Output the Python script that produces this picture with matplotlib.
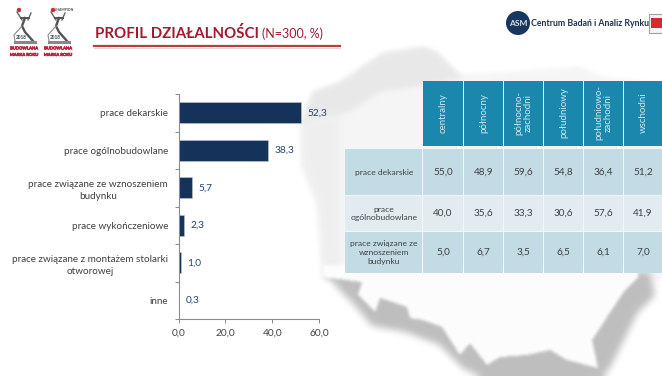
import matplotlib
matplotlib.use("Agg")
import matplotlib.pyplot as plt
import matplotlib.patheffects as pe
from matplotlib.patches import Rectangle, Circle
from matplotlib.path import Path
import numpy as np

plt.rcParams['font.family'] = ['Lato', 'DejaVu Sans']

categories = ["prace dekarskie", "prace ogólnobudowlane", "prace związane ze wznoszeniem\nbudynku",
              "prace wykończeniowe", "prace związane z montażem stolarki\notworowej", "inne"]
values = [52.3, 38.3, 5.7, 2.3, 1.0, 0.3]
x_ticks = [0, 20, 40, 60]

regions = ["centralny", "północny", "północno-\nzachodni", "południowy", "południowo-\nzachodni", "wschodni"]
row_labels = ["prace dekarskie", "prace\nogólnobudowlane", "prace związane ze\nwznoszeniem\nbudynku"]
row_dekarskie = [55.0, 48.9, 59.6, 54.8, 36.4, 51.2]
row_ogolno = [40.0, 35.6, 33.3, 30.6, 57.6, 41.9]
row_wznoszenie = [5.0, 6.7, 3.5, 6.5, 6.1, 7.0]

W, H = 662, 376
fig = plt.figure(figsize=(W/100, H/100), dpi=100, facecolor='white')

def pl(v):
    return f"{v:.1f}".replace('.', ',')

bg = fig.add_axes([0, 0, 1, 1])
bg.set_xlim(0, W); bg.set_ylim(H, 0); bg.axis('off')

# Decorative blurred map backdrop, composited in pixel space
gx, gy = np.meshgrid(np.arange(W) + .5, np.arange(H) + .5)
grid = np.column_stack([gx.ravel(), gy.ravel()])

def blur(a, r):
    for _ in range(3):
        k = np.ones(2*r+1) / (2*r+1)
        a = np.apply_along_axis(lambda m: np.convolve(np.pad(m, r, mode='edge'), k, mode='valid'), 0, a)
        a = np.apply_along_axis(lambda m: np.convolve(np.pad(m, r, mode='edge'), k, mode='valid'), 1, a)
    return a

canvas = np.full((H, W), 255.0)
def layer(points, shade, r):
    global canvas
    m = Path(points).contains_points(grid).reshape(H, W).astype(float)
    m = blur(m, r)
    canvas = canvas * (1 - m) + shade * m

layer([(313,92),(340,82),(383,53),(423,47),(437,52),(450,65),(462,74),(500,72),(580,66),(600,76),(680,85),
       (680,280),(323,280),(318,205),(302,165),(300,110)], 245, 2)
layer([(313,92),(340,82),(383,53),(423,47),(437,52),(450,66),(462,78),(423,86),(380,92),(350,112),(325,120),(302,125)], 232, 2)
layer([(302,120),(340,115),(340,278),(323,278),(318,205),(302,165)], 238, 3)
layer([(325,274),(650,272),(655,295),(638,312),(610,368),(600,380),(490,380),(462,368),(440,345),(405,332),
       (372,326),(350,300),(338,288)], 190, 3)
layer([(323,277),(362,282),(358,295),(375,312),(380,298),(407,307),(410,318),(423,320),(442,327),(460,355),
       (470,343),(487,365),(500,357),(527,355),(550,350),(567,360),(598,368),(592,340),(623,293),(638,277),(638,265),(323,265)], 252, 1)
bg.imshow(canvas, cmap='gray', vmin=0, vmax=255, extent=(0, W, H, 0), aspect='auto', zorder=1, interpolation='bilinear')
bg.set_xlim(0, W); bg.set_ylim(H, 0)

# Title
bg.text(95, 33, "PROFIL DZIAŁALNOŚCI", color='#a5192e', fontsize=10.8, fontweight='bold', va='center', ha='left', zorder=5)
bg.text(262, 34, "(N=300, %)", color='#a5192e', fontsize=9, va='center', ha='left', zorder=5)
bg.plot([94, 340], [46, 46], color='#b5403f', lw=1.6, zorder=4)
bg.plot([94, 340], [47.6, 47.6], color='#d8d8d8', lw=0.8, zorder=3)

# Logos
thick = [pe.withStroke(linewidth=0.35, foreground='#b5233a')]
for x0 in (0, 34):
    bg.plot([x0+28, x0+31], [20, 13], color='#666666', lw=1.0, zorder=4)
    bg.plot([x0+22, x0+17], [20, 12], color='#666666', lw=1.0, zorder=4)
    bg.plot([x0+21, x0+29], [18, 18], color='#555555', lw=1.4, zorder=4)
    bg.plot([x0+25, x0+22, x0+25, x0+33], [18, 26, 32, 41], color='#555555', lw=1.7, zorder=4)
    bg.plot([x0+22, x0+14, x0+15], [26, 35, 41], color='#8a8a8a', lw=0.8, zorder=4)
    bg.add_patch(Circle((x0+19, 10), 2.2, fc='#c0323a', ec='none', zorder=4))
    bg.add_patch(Rectangle((x0+14, 41), 23, 3, fc='#888888', ec='none', zorder=4))
    bg.text(x0+21, 37.5, "2018", fontsize=3.4, color='#444444', ha='center', va='center', fontweight='bold', zorder=5)
    bg.text(x0+24, 48.5, "BUDOWLANA", fontsize=3.0, color='#b5233a', ha='center', va='center', fontweight='black', zorder=5, path_effects=thick)
    bg.text(x0+24, 55, "MARKA ROKU", fontsize=3.0, color='#b5233a', ha='center', va='center', fontweight='black', zorder=5, path_effects=thick)
bg.text(55, 10, "CHAMPION", fontsize=2.5, color='#444444', ha='left', va='center', fontweight='bold', zorder=5)

# ASM logo
bg.add_patch(Circle((518, 23), 12, fc='#17375e', ec='none', zorder=4))
bg.text(518, 23, "ASM", color='#d5dde8', fontsize=6, fontweight='bold', ha='center', va='center', zorder=5)
bg.text(531, 23.5, "Centrum Badań i Analiz Rynku", color='#1f3350', fontsize=6.3, fontweight='bold', ha='left', va='center', zorder=5)
bg.add_patch(Rectangle((648.5, 13.5), 14, 19.5, fc='#f4f4f4', ec='#a0a0a0', lw=0.8, zorder=4))
bg.add_patch(Rectangle((651, 18), 12, 10, fc='#d7282f', ec='none', zorder=5))

# Table
col_edges = [(423, 463), (464, 503), (504, 543), (544, 583), (584, 623), (624, 662)]
head_y = (81, 146)
row_edges = [(149, 195), (196, 231), (232, 273)]
row_colors = ['#c3dbe5', '#e2ecf0', '#c3dbe5']
rows = [row_dekarskie, row_ogolno, row_wznoszenie]
txt = '#404040'
for (x0, x1), name in zip(col_edges, regions):
    bg.add_patch(Rectangle((x0, head_y[0]), x1-x0, head_y[1]-head_y[0], fc='#1b87ac', ec='none', zorder=4))
    bg.text((x0+x1)/2, 113, name, rotation=90, color='#cfe6ee', fontsize=7, ha='center', va='center',
            linespacing=1.0, multialignment='center', zorder=5)
for (y0, y1), label, data, c in zip(row_edges, row_labels, rows, row_colors):
    bg.add_patch(Rectangle((345, y0), 77, y1-y0, fc=c, ec='none', zorder=4))
    bg.text(384, (y0+y1)/2, label, color=txt, fontsize=6.1, ha='center', va='center', linespacing=1.3, zorder=5)
    for (x0, x1), v in zip(col_edges, data):
        bg.add_patch(Rectangle((x0, y0), x1-x0, y1-y0, fc=c, ec='none', zorder=4))
        bg.text((x0+x1)/2, (y0+y1)/2, pl(v), color=txt, fontsize=7.2, ha='center', va='center', zorder=5)

# Bar chart
ax = fig.add_axes([178.5/W, 1-319/H, (319-178.5)/W, (319-94)/H], facecolor='none')
y = list(range(len(categories)))
ax.barh(y, values, height=0.55, color='#14325a', edgecolor='#c0c8d0', linewidth=0.4)
ax.set_ylim(5.5, -0.5)
ax.set_xlim(0, 60)
ax.set_yticks(y)
ax.set_yticklabels(categories, fontsize=7.15, color='#404040', linespacing=1.4, multialignment='center')
ax.set_yticks([i - 0.5 for i in range(len(categories)+1)], minor=True)
ax.tick_params(axis='y', which='major', length=0, pad=7.5)
ax.tick_params(axis='y', which='minor', length=3, width=0.7, color='#8c8c8c', direction='out')
ax.set_xticks(x_ticks)
ax.set_xticklabels([pl(t) for t in x_ticks], fontsize=7.25, color='#404040')
ax.tick_params(axis='x', length=3, width=0.7, color='#8c8c8c', pad=4)
for s in ['top', 'right']:
    ax.spines[s].set_visible(False)
for s in ['left', 'bottom']:
    ax.spines[s].set_color('#8c8c8c'); ax.spines[s].set_linewidth(0.8)
for yi, v in zip(y, values):
    ax.annotate(pl(v), (v, yi), xytext=(4.5, 0), textcoords='offset points', color='#24456f', fontsize=7.25, va='center', ha='left')

fig.savefig("out.png", dpi=100, facecolor='white')
